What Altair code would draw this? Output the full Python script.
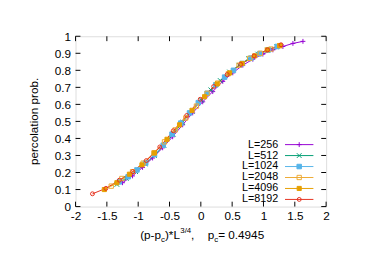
import altair as alt
import pandas as pd

labels = ["L=256", "L=512", "L=1024", "L=2048", "L=4096", "L=8192"]
colors = ["#9400d3", "#009e73", "#56b4e9", "#eeaa33", "#e69f00", "#e5301e"]
fills = ["transparent", "transparent", "#56b4e9", "transparent", "#e69f00", "transparent"]
shapes = ["M-1,0L1,0M0,-1L0,1", "M-1,-1L1,1M-1,1L1,-1", "square", "square", "square", "circle"]
sizes = [25, 16, 12, 18, 14, 16]

x_256 = [-1.25, -1.09, -0.93, -0.77, -0.61, -0.45, -0.29, -0.13, 0.03, 0.19, 0.35, 0.51, 0.67, 0.83, 0.99, 1.15, 1.31, 1.47, 1.63]
y_256 = [0.14, 0.18, 0.23, 0.285, 0.345, 0.41, 0.48, 0.55, 0.615, 0.675, 0.735, 0.785, 0.83, 0.865, 0.895, 0.92, 0.94, 0.958, 0.97]
x_512 = [-1.34, -1.19, -1.04, -0.89, -0.74, -0.59, -0.44, -0.29, -0.14, 0.01, 0.16, 0.31, 0.46, 0.61, 0.76, 0.91, 1.06, 1.21]
y_512 = [0.13, 0.165, 0.205, 0.25, 0.30, 0.36, 0.425, 0.495, 0.56, 0.625, 0.685, 0.74, 0.79, 0.83, 0.868, 0.895, 0.918, 0.938]
x_1024 = [-1.30, -1.16, -1.02, -0.88, -0.74, -0.60, -0.46, -0.32, -0.18, -0.04, 0.10, 0.24, 0.38, 0.52, 0.66, 0.80, 0.94, 1.08, 1.22]
y_1024 = [0.145, 0.175, 0.215, 0.255, 0.305, 0.36, 0.425, 0.49, 0.55, 0.61, 0.665, 0.715, 0.76, 0.80, 0.84, 0.872, 0.898, 0.92, 0.94]
x_2048 = [-1.43, -1.26, -1.09, -0.92, -0.75, -0.58, -0.41, -0.24, -0.07, 0.10, 0.27, 0.44, 0.61, 0.78, 0.95, 1.12, 1.26]
y_2048 = [0.12, 0.165, 0.205, 0.255, 0.315, 0.38, 0.45, 0.52, 0.59, 0.665, 0.725, 0.78, 0.83, 0.87, 0.90, 0.925, 0.945]
x_4096 = [-1.54, -1.34, -1.14, -0.94, -0.74, -0.54, -0.34, -0.14, 0.06, 0.26, 0.46, 0.66, 0.86, 1.06, 1.26]
y_4096 = [0.10, 0.14, 0.19, 0.245, 0.315, 0.395, 0.48, 0.565, 0.645, 0.72, 0.785, 0.84, 0.885, 0.92, 0.945]
x_8192 = [-1.73, -1.515, -1.30, -1.085, -0.87, -0.655, -0.44, -0.225, -0.01, 0.205, 0.42, 0.635, 0.85, 1.065, 1.28]
y_8192 = [0.075, 0.107, 0.155, 0.205, 0.27, 0.35, 0.445, 0.535, 0.63, 0.705, 0.775, 0.835, 0.885, 0.92, 0.95]

x_ticks = [-2, -1.5, -1, -0.5, 0, 0.5, 1, 1.5, 2]
y_ticks = [0, 0.1, 0.2, 0.3, 0.4, 0.5, 0.6, 0.7, 0.8, 0.9, 1]

series = [(labels[0], x_256, y_256), (labels[1], x_512, y_512), (labels[2], x_1024, y_1024),
          (labels[3], x_2048, y_2048), (labels[4], x_4096, y_4096), (labels[5], x_8192, y_8192)]
rows = []
for lab, xs, ys in series:
    for i, (xv, yv) in enumerate(zip(xs, ys)):
        rows.append({"L": lab, "x": xv, "y": yv, "i": i})
df = pd.DataFrame(rows)

W, H = 256, 174
FONT = "Liberation Sans"
xs_ = alt.Scale(domain=[-2, 2], nice=False, zero=False)
ys_ = alt.Scale(domain=[0, 1], nice=False, zero=False)
cscale = alt.Scale(domain=labels, range=colors)

x_axis = alt.Axis(values=x_ticks, ticks=False, domain=False, grid=False,
                  title=None, labelPadding=4, labelFontSize=12, labelColor="black",
                  labelFont=FONT, labelFlush=False, labelOverlap=False,
                  labelExpr="'' + datum.value")
y_axis = alt.Axis(values=y_ticks, ticks=False, domain=False, grid=False,
                  title=None, labelPadding=5, labelFontSize=12, labelColor="black",
                  labelFont=FONT, labelFlush=False, labelOverlap=False,
                  labelExpr="'' + datum.value")
X = alt.X("x:Q", scale=xs_, axis=x_axis)
Y = alt.Y("y:Q", scale=ys_, axis=y_axis)

lines = alt.Chart(df).mark_line(strokeWidth=1).encode(
    x=X, y=Y, color=alt.Color("L:N", scale=cscale, legend=None), order="i:Q")

points = alt.Chart(df).mark_point(strokeWidth=1, opacity=1).encode(
    x=X, y=Y,
    shape=alt.Shape("L:N", scale=alt.Scale(domain=labels, range=shapes), legend=None),
    stroke=alt.Stroke("L:N", scale=cscale, legend=None),
    fill=alt.Fill("L:N", scale=alt.Scale(domain=labels, range=fills), legend=None),
    size=alt.Size("L:N", scale=alt.Scale(domain=labels, range=sizes), legend=None))

# inward ticks on all four sides
xt = pd.DataFrame({"x": x_ticks})
yt = pd.DataFrame({"y": y_ticks})
TL = 5
xt_b = alt.Chart(xt).mark_rule(color="black", strokeWidth=1).encode(
    x=X, y=alt.value(H), y2=alt.value(H - TL))
xt_t = alt.Chart(xt).mark_rule(color="black", strokeWidth=1).encode(
    x=X, y=alt.value(0), y2=alt.value(TL))
yt_l = alt.Chart(yt).mark_rule(color="black", strokeWidth=1).encode(
    y=Y, x=alt.value(0), x2=alt.value(TL))
yt_r = alt.Chart(yt).mark_rule(color="black", strokeWidth=1).encode(
    y=Y, x=alt.value(W), x2=alt.value(W - TL))

# legend (manual, gnuplot style)
leg = pd.DataFrame({"L": labels, "ly": [110.7 + 11.2 * k for k in range(len(labels))]})
LY = alt.Y("ly:Q", scale=None, axis=None)
leg_text = alt.Chart(leg).mark_text(align="right", baseline="middle", fontSize=11, font=FONT, color="black").encode(
    x=alt.value(207), y=LY, text="L:N")
leg_line = alt.Chart(leg).mark_rule(strokeWidth=1).encode(
    x=alt.value(214), x2=alt.value(243), y=LY,
    color=alt.Color("L:N", scale=cscale, legend=None))
leg_pt = alt.Chart(leg).mark_point(strokeWidth=1, opacity=1).encode(
    x=alt.value(228.5), y=LY,
    shape=alt.Shape("L:N", scale=alt.Scale(domain=labels, range=shapes), legend=None),
    stroke=alt.Stroke("L:N", scale=cscale, legend=None),
    fill=alt.Fill("L:N", scale=alt.Scale(domain=labels, range=fills), legend=None),
    size=alt.Size("L:N", scale=alt.Scale(domain=labels, range=sizes), legend=None))

# axis titles (with sub/superscripts)
def txt(s, x, y, size=12, **kw):
    return alt.Chart(pd.DataFrame({"t": [s]})).mark_text(
        align="left", baseline="alphabetic", fontSize=size, font=FONT, color="black", **kw
    ).encode(x=alt.value(x), y=alt.value(y), text="t:N")

OX = -77
by = 207
title_parts = [
    txt("(p-p", 143 + OX, by),
    txt("c", 164.3 + OX, by + 3, size=8),
    txt(")*L", 168.3 + OX, by),
    txt("3/4", 184 + OX, by - 6, size=8),
    txt(",", 195 + OX, by),
    txt("p", 212 + OX, by),
    txt("c", 218.7 + OX, by + 3, size=8),
    txt(" = 0.4945", 222.7 + OX, by),
]
ytitle = alt.Chart(pd.DataFrame({"t": ["percolation prob."]})).mark_text(
    align="center", baseline="middle", fontSize=12, font=FONT, color="black", angle=270
).encode(x=alt.value(35 + OX), y=alt.value(H / 2), text="t:N")

chart = alt.layer(lines, points, xt_b, xt_t, yt_l, yt_r,
                  leg_line, leg_pt, leg_text, ytitle, *title_parts).properties(
    width=W, height=H,
    autosize=alt.AutoSizeParams(type="none"),
    padding={"left": 69, "top": 26, "right": 53, "bottom": 65},
).configure_view(stroke="black", strokeWidth=1).configure_axis(labelOverlap=False).configure(background="white")

chart.save("out.html", embed_options={"renderer": "svg", "actions": False})
